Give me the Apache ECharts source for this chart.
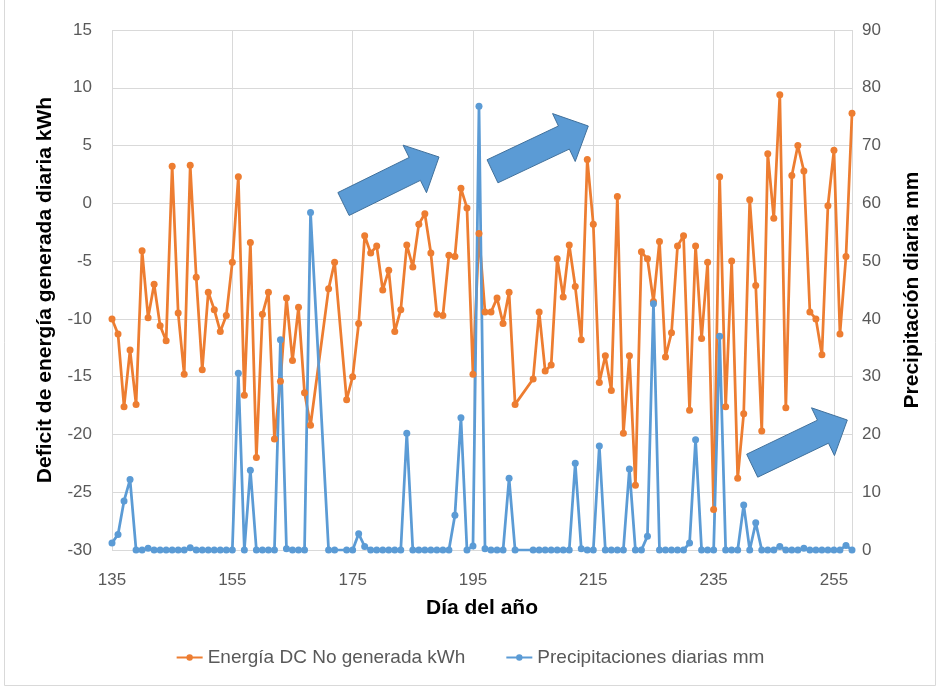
<!DOCTYPE html>
<html><head><meta charset="utf-8">
<script src="https://cdn.jsdelivr.net/npm/echarts@6/dist/echarts.min.js"></script>
<style>html,body{margin:0;padding:0;background:#fff}#c{width:940px;height:690px}</style>
</head><body><div id="c"></div>
<script>
// Day of year (x)
const days = [135,136,137,138,139,140,141,142,143,144,145,146,147,148,149,150,151,152,153,154,155,156,157,158,159,160,161,162,163,164,165,166,167,168,
  171,172,
  174,175,176,177,178,179,180,181,182,183,184,185,186,187,188,189,190,191,192,193,194,195,196,197,198,199,200,201,202,
  205,206,207,208,209,210,211,212,213,214,215,216,217,218,219,220,221,222,223,224,225,226,227,228,229,230,231,232,233,234,235,236,237,238,239,240,241,242,243,244,245,246,247,248,249,250,251,252,253,254,255,256,257,258];
// Energía DC No generada kWh (left axis)
const energia = [-10.0,-11.3,-17.6,-12.7,-17.4,-4.1,-9.9,-7.0,-10.6,-11.9,3.2,-9.5,-14.8,3.3,-6.4,-14.4,-7.7,-9.2,-11.1,-9.7,-5.1,2.3,-16.6,-3.4,-22.0,-9.6,-7.7,-20.4,-15.4,-8.2,-13.6,-9.0,-16.4,-19.2,
  -7.4,-5.1,
  -17.0,-15.0,-10.4,-2.8,-4.3,-3.7,-7.5,-5.8,-11.1,-9.2,-3.6,-5.5,-1.8,-0.9,-4.3,-9.6,-9.7,-4.5,-4.6,1.3,-0.4,-14.8,-2.6,-9.4,-9.4,-8.2,-10.4,-7.7,-17.4,
  -15.2,-9.4,-14.5,-14.0,-4.8,-8.1,-3.6,-7.2,-11.8,3.8,-1.8,-15.5,-13.2,-16.2,0.6,-19.9,-13.2,-24.4,-4.2,-4.8,-8.5,-3.3,-13.3,-11.2,-3.7,-2.8,-17.9,-3.7,-11.7,-5.1,-26.5,2.3,-17.6,-5.0,-23.8,-18.2,0.3,-7.1,-19.7,4.3,-1.3,9.4,-17.7,2.4,5.0,2.8,-9.4,-10.0,-13.1,-0.2,4.6,-11.3,-4.6,7.8];
// Precipitaciones diarias mm (right axis)
const precip = [1.2,2.7,8.5,12.2,0,0,0.3,0,0,0,0,0,0,0.4,0,0,0,0,0,0,0,30.6,0,13.8,0,0,0,0,36.4,0.2,0,0,0,58.4,
  0,0,
  0,0,2.8,0.6,0,0,0,0,0,0,20.2,0,0,0,0,0,0,0,6.0,22.9,0,0.7,76.8,0.2,0,0,0,12.4,0,
  0,0,0,0,0,0,0,15.0,0.2,0,0,18.0,0,0,0,0,14.0,0,0,2.4,42.6,0,0,0,0,0,1.2,19.1,0,0,0,37.0,0,0,0,7.8,0,4.7,0,0,0,0.6,0,0,0,0.3,0,0,0,0,0,0,0.8,0];

const seriesNames = ['Energía DC No generada kWh', 'Precipitaciones diarias mm'];
const xTitle = 'Día del año';
const yLeftTitle = 'Deficit de energía generada diaria kWh';
const yRightTitle = 'Precipitación diaria mm';

const FONT = 'Liberation Sans, Arial, sans-serif';
const chart = echarts.init(document.getElementById('c'), null, {renderer: 'canvas'});

function arrow(tx, ty, hx, hy) {
  const dx = hx - tx, dy = hy - ty, len = Math.hypot(dx, dy);
  const ux = dx / len, uy = dy / len, nx = -uy, ny = ux;
  const w = 12.75, H = 26.5, L = 27;
  const bx = hx - ux * L, by = hy - uy * L;
  return {
    type: 'polygon', z: 100,
    shape: {points: [
      [tx + nx * w, ty + ny * w], [bx + nx * w, by + ny * w], [bx + nx * H, by + ny * H],
      [hx, hy],
      [bx - nx * H, by - ny * H], [bx - nx * w, by - ny * w], [tx - nx * w, ty - ny * w]
    ]},
    style: {fill: '#5B9BD5', stroke: '#41719C', lineWidth: 1}
  };
}

const option = {
  animation: false,
  backgroundColor: '#fff',
  grid: {left: 112, right: 88, top: 30, bottom: 140},
  legend: {
    bottom: 18, left: 'center', itemGap: 40, itemWidth: 26, itemHeight: 8,
    textStyle: {fontFamily: FONT, fontSize: 19, color: '#595959'},
    data: seriesNames
  },
  xAxis: {
    type: 'value', min: 135, max: 258, interval: 20,
    axisLine: {show: false}, axisTick: {show: false},
    splitLine: {show: true, lineStyle: {color: '#D9D9D9', width: 1}},
    axisLabel: {showMaxLabel: false, margin: 22, fontFamily: FONT, fontSize: 17, color: '#595959'},
    name: xTitle, nameLocation: 'middle', nameGap: 48,
    nameTextStyle: {fontFamily: FONT, fontSize: 21, fontWeight: 'bold', color: '#000'}
  },
  yAxis: [{
    type: 'value', min: -30, max: 15, interval: 5, position: 'left',
    axisLine: {show: false}, axisTick: {show: false},
    splitLine: {show: true, lineStyle: {color: '#D9D9D9', width: 1}},
    axisLabel: {margin: 20, fontFamily: FONT, fontSize: 17, color: '#595959'},
    name: yLeftTitle, nameLocation: 'middle', nameRotate: 90, nameGap: 56,
    nameTextStyle: {fontFamily: FONT, fontSize: 21, fontWeight: 'bold', color: '#000'}
  }, {
    type: 'value', min: 0, max: 90, interval: 10, position: 'right',
    axisLine: {show: false}, axisTick: {show: false},
    splitLine: {show: false},
    axisLabel: {margin: 10, fontFamily: FONT, fontSize: 17, color: '#595959'},
    name: yRightTitle, nameLocation: 'middle', nameRotate: 90, nameGap: 50,
    nameTextStyle: {fontFamily: FONT, fontSize: 21, fontWeight: 'bold', color: '#000'}
  }],
  series: [{
    name: seriesNames[0], type: 'line', yAxisIndex: 0,
    data: days.map((d, i) => [d, energia[i]]),
    symbol: 'circle', symbolSize: 7, showSymbol: true,
    lineStyle: {color: '#ED7D31', width: 2.75},
    itemStyle: {color: '#ED7D31'}
  }, {
    name: seriesNames[1], type: 'line', yAxisIndex: 1,
    data: days.map((d, i) => [d, precip[i]]),
    symbol: 'circle', symbolSize: 7, showSymbol: true,
    lineStyle: {color: '#5B9BD5', width: 2.75},
    itemStyle: {color: '#5B9BD5'}
  }],
  graphic: [
    {type: 'rect', z: -10, shape: {x: 4.5, y: -2, width: 931, height: 687.5},
     style: {fill: 'none', stroke: '#D9D9D9', lineWidth: 1}},
    arrow(343.5, 204, 439, 157),
    arrow(492.5, 171.3, 588.3, 126),
    arrow(752.2, 465.7, 847.3, 420)
  ]
};
chart.setOption(option);
</script>
</body></html>
